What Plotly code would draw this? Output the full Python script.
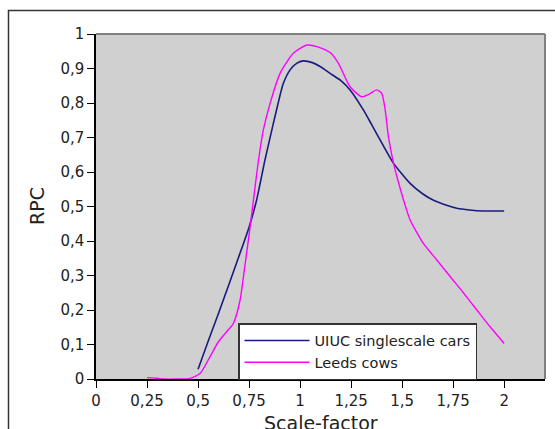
import plotly.graph_objects as go

cars_x = [0.5, 0.55, 0.6, 0.65, 0.7, 0.75, 0.787, 0.828, 0.869, 0.902, 0.918, 0.951, 0.983, 1.015,
          1.06, 1.1, 1.147, 1.2, 1.245, 1.31, 1.35, 1.392, 1.458, 1.539, 1.6, 1.654, 1.71, 1.768,
          1.83, 1.898, 2.0]
cars_y = [0.028, 0.11, 0.19, 0.272, 0.355, 0.44, 0.519, 0.635, 0.741, 0.823, 0.857, 0.896, 0.915, 0.922,
          0.917, 0.905, 0.886, 0.865, 0.838, 0.78, 0.738, 0.693, 0.625, 0.567, 0.537, 0.518, 0.505, 0.495,
          0.49, 0.487, 0.487]

cows_x = [0.25, 0.3, 0.33, 0.4, 0.461, 0.51, 0.559, 0.6, 0.64, 0.673, 0.706, 0.73, 0.755, 0.78, 0.8,
          0.82, 0.853, 0.902, 0.967, 1.035, 1.1, 1.15, 1.188, 1.245, 1.302, 1.34, 1.375, 1.40, 1.417,
          1.433, 1.458, 1.49, 1.522, 1.539, 1.604, 1.67, 1.735, 1.8, 1.866, 1.93, 2.0]
cows_y = [0.004, 0.002, 0.0, 0.0, 0.002, 0.016, 0.065, 0.108, 0.137, 0.161, 0.229, 0.33, 0.44, 0.56, 0.65,
          0.722, 0.799, 0.886, 0.944, 0.968, 0.96, 0.945, 0.915, 0.847, 0.818, 0.826, 0.838, 0.828, 0.78,
          0.702, 0.625, 0.553, 0.49, 0.461, 0.393, 0.345, 0.297, 0.25, 0.2, 0.152, 0.103]

x_ticks = [0, 0.25, 0.5, 0.75, 1, 1.25, 1.5, 1.75, 2]
x_labels = ["0", "0,25", "0,5", "0,75", "1", "1,25", "1,5", "1,75", "2"]
y_ticks = [0, 0.1, 0.2, 0.3, 0.4, 0.5, 0.6, 0.7, 0.8, 0.9, 1]
y_labels = ["0", "0,1", "0,2", "0,3", "0,4", "0,5", "0,6", "0,7", "0,8", "0,9", "1"]
x_title = "Scale-factor"
y_title = "RPC"

fig = go.Figure()
fig.add_trace(go.Scatter(x=cars_x, y=cars_y, mode="lines", name="UIUC singlescale cars",
                         line=dict(color="#1a1a80", width=1.6, shape="spline", smoothing=0.6)))
fig.add_trace(go.Scatter(x=cows_x, y=cows_y, mode="lines", name="Leeds cows",
                         line=dict(color="#ff00ff", width=1.4, shape="spline", smoothing=0.6)))

W, H = 555, 429
L, R, T, B = 96, 10, 34, 50
pw, ph = W - L - R, H - T - B

def px(xp):
    return (xp - L) / pw

def py(yp):
    return (H - B - yp) / ph

# outer frame
fig.add_shape(type="rect", xref="paper", yref="paper", x0=px(8.5), x1=px(570), y0=py(10.5), y1=py(445),
              line=dict(color="#333333", width=1.5), layer="below")
# top/right plot border
fig.add_shape(type="line", xref="paper", yref="paper", x0=0, x1=1, y0=1, y1=1,
              line=dict(color="#808080", width=2))
fig.add_shape(type="line", xref="paper", yref="paper", x0=1, x1=1, y0=0, y1=1,
              line=dict(color="#808080", width=2))

# axis titles
fig.add_annotation(text=x_title, xref="paper", yref="paper", x=px(321), y=py(423),
                   xanchor="center", yanchor="middle", showarrow=False,
                   font=dict(size=19, color="#222222"))
fig.add_annotation(text=y_title, xref="paper", yref="paper", x=px(37), y=py(206),
                   xanchor="center", yanchor="middle", showarrow=False, textangle=-90,
                   font=dict(size=19, color="#222222"))

fig.update_layout(
    width=W, height=H,
    margin=dict(l=L, r=R, t=T, b=B, autoexpand=False),
    paper_bgcolor="white",
    plot_bgcolor="#d0d0d0",
    font=dict(family="DejaVu Sans", color="#222222"),
    showlegend=True,
    legend=dict(x=px(238), y=py(323), xanchor="left", yanchor="top",
                bgcolor="white", bordercolor="#333333", borderwidth=1.5,
                font=dict(size=14.5, color="#222222"), itemwidth=65,
                tracegroupgap=0),
)
fig.update_xaxes(range=[0, 2.2], tickvals=x_ticks, ticktext=x_labels, showgrid=False, zeroline=False,
                 showline=True, linecolor="black", linewidth=1.5, ticks="outside", ticklen=7,
                 tickcolor="black", tickfont=dict(size=15), automargin=False)
fig.update_yaxes(range=[0, 1], tickvals=y_ticks, ticktext=y_labels, showgrid=False, zeroline=False,
                 showline=True, linecolor="black", linewidth=1.5, ticks="outside", ticklen=7,
                 tickcolor="black", tickfont=dict(size=15), automargin=False)

fig.write_html("out.html")
